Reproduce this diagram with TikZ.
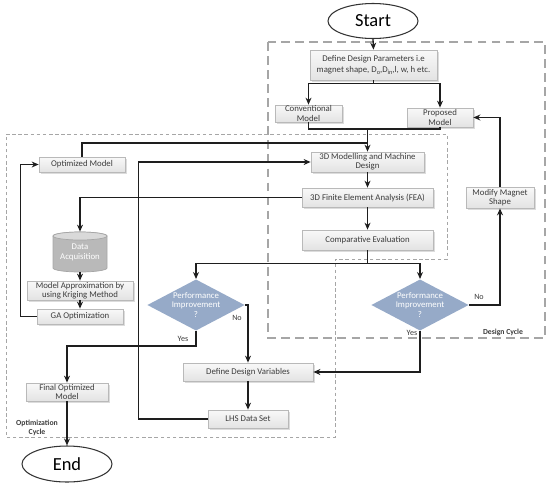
\documentclass[tikz,border=0pt]{standalone}
\usepackage{fontspec}
\setmainfont{Carlito}
\usetikzlibrary{shapes.geometric,shadows,arrows.meta}
\newdimen\px \px=0.02cm
\newcommand\mysub[1]{\raisebox{-0.8pt}{\fontsize{3.6}{4}\selectfont #1}}
\definecolor{dia}{RGB}{150,170,200}
\definecolor{txt}{RGB}{60,60,60}
\definecolor{ln}{RGB}{30,30,30}
\begin{document}
\begin{tikzpicture}[x=0.02cm,y=-0.02cm,
  sz/.style 2 args={minimum width=#1\px, minimum height=#2\px},
  box/.style={draw=gray!55, top color=gray!5, bottom color=gray!22,
    drop shadow={shadow xshift=0.9pt,shadow yshift=-0.9pt,fill=gray!55},
    text=txt, font=\fontsize{5}{5.3}\selectfont, inner sep=0pt, align=center},
  term/.style={ellipse, draw=black!80, line width=0.6pt, fill=white, inner sep=0pt,
    font=\fontsize{10.5}{12}\selectfont},
  dec/.style={diamond, aspect=1.9, fill=dia, inner sep=0pt, text=white,
    font=\fontsize{5}{5.6}\selectfont, align=center},
  arr/.style={-{Stealth[length=4pt,width=3.4pt]}, line width=0.75pt, draw=ln},
  ln/.style={line width=0.75pt, draw=ln},
  lbl/.style={font=\fontsize{4.6}{5.5}\selectfont, text=txt, inner sep=0pt},
  cyc/.style={font=\fontsize{4.4}{5.2}\selectfont\bfseries, text=txt, inner sep=0pt, align=center}]
\useasboundingbox (0,0) rectangle (550,487);

% dashed regions
\draw[gray!70, line width=0.6pt, dash pattern=on 5pt off 3pt] (268,42) rectangle (545,338);
\draw[gray!70, line width=0.5pt, dash pattern=on 2pt off 1.5pt]
  (6,134) -- (447,134) -- (447,259) -- (335,259) -- (335,437) -- (6,437) -- cycle;
\node[cyc] (dclab) at (503,332) {Design Cycle};
\node[cyc] (oclab) at (37,428) {Optimization\\Cycle};

% nodes
\node[term, sz={90}{35}] (start) at (373,21) {Start};
\node[box, sz={127}{30}] (ddp) at (373.5,65) {Define Design Parameters i.e\\[1pt]magnet shape, D\mysub{o},D\mysub{in},l, w, h etc.};
\node[box, sz={67}{17}] (conv) at (308.5,113.5) {Conventional\\Model};
\node[box, sz={66}{19}] (prop) at (440,117.5) {Proposed\\Model};
\node[box, sz={113}{20}] (m3d) at (367.5,162) {3D Modelling and Machine\\Design};
\node[box, sz={131}{19}] (fea) at (367.5,197.5) {3D Finite Element Analysis (FEA)};
\node[box, sz={131}{20}] (ce) at (367.5,240) {Comparative Evaluation};
\node[box, sz={68}{21}] (mms) at (500,197.5) {Modify Magnet\\Shape};
\node[dec, sz={96}{50}] (d1) at (196,305) {Performance\\Improvement\\?};
\node[dec, sz={96}{50}] (d2) at (420,305) {Performance\\Improvement\\?};
\node[box, sz={130}{18}] (ddv) at (248,372) {Define Design Variables};
\node[box, sz={80}{18}] (lhs) at (248,419) {LHS Data Set};
\node[box, sz={82}{18}] (fom) at (67,392) {Final Optimized\\Model};
\node[term, sz={90}{36}] (end) at (67,464) {End};
\node[box, sz={86}{15}] (om) at (82,164.5) {Optimized Model};
\node[box, sz={106}{19}] (ma) at (80,290.5) {Model Approximation by\\using Kriging Method};
\node[box, sz={86}{15}] (ga) at (80,316.5) {GA Optimization};

% data acquisition cylinder
\path[fill=gray!55, draw=gray!70, line width=0.4pt] (53,236) -- (53,268)
  arc[start angle=180, end angle=360, x radius=27\px, y radius=4\px] -- (107,236)
  arc[start angle=0, end angle=180, x radius=27\px, y radius=4\px] -- cycle;
\draw[fill=gray!30, draw=gray!70, line width=0.4pt] (80,236) ellipse [x radius=27\px, y radius=4\px];
\node[sz={54}{40}, inner sep=0pt, align=center, text=white, font=\fontsize{5}{5.6}\selectfont] (da) at (80,252) {Data\\Acquisition};

% connectors
\draw[arr] (start.south) -- (ddp.north);
\draw[arr] (ddp.south) -- ++(0,3) -| (conv.north);
\draw[arr] (ddp.south) -- ++(0,3) -| (prop.north);
\coordinate (j1) at (367.5,129);
\coordinate (j2) at (367.5,143);
\draw[ln] (conv.south) |- (j1) -| (prop.south);
\draw[arr] (j1) -- (m3d.north);
\draw[ln] (om.north) |- (j2);
\draw[arr] (lhs.west) -- ++(-69,0) |- (m3d.west);
\draw[arr] (m3d.south) -- (fea.north);
\draw[arr] (fea.west) -| (da.north);
\draw[arr] (fea.south) -- (ce.north);
\draw[arr] (ce.south) -- ++(0,13) -| (d1.north);
\draw[arr] (ce.south) -- ++(0,13) -| (d2.north);
\draw[arr] (da.south) -- (ma.north);
\draw[arr] (ma.south) -- (ga.north);
\draw[arr] (ga.west) -- ++(-16,0) |- (om.west);
\draw[arr] (d1.east) -| (ddv.north);
\draw[arr] (d1.south) -- ++(0,15) -| (fom.north);
\draw[arr] (d2.east) -| (mms.south);
\draw[arr] (mms.north) |- (prop.east);
\draw[arr] (d2.south) |- (ddv.east);
\draw[arr] (ddv.south) -- (lhs.north);
\draw[arr] (fom.south) -- (end.north);

% labels
\node[lbl] (no1) at (237,318) {No};
\node[lbl] (yes1) at (183,339) {Yes};
\node[lbl] (no2) at (479,297) {No};
\node[lbl] (yes2) at (412,333) {Yes};
\end{tikzpicture}
\end{document}
